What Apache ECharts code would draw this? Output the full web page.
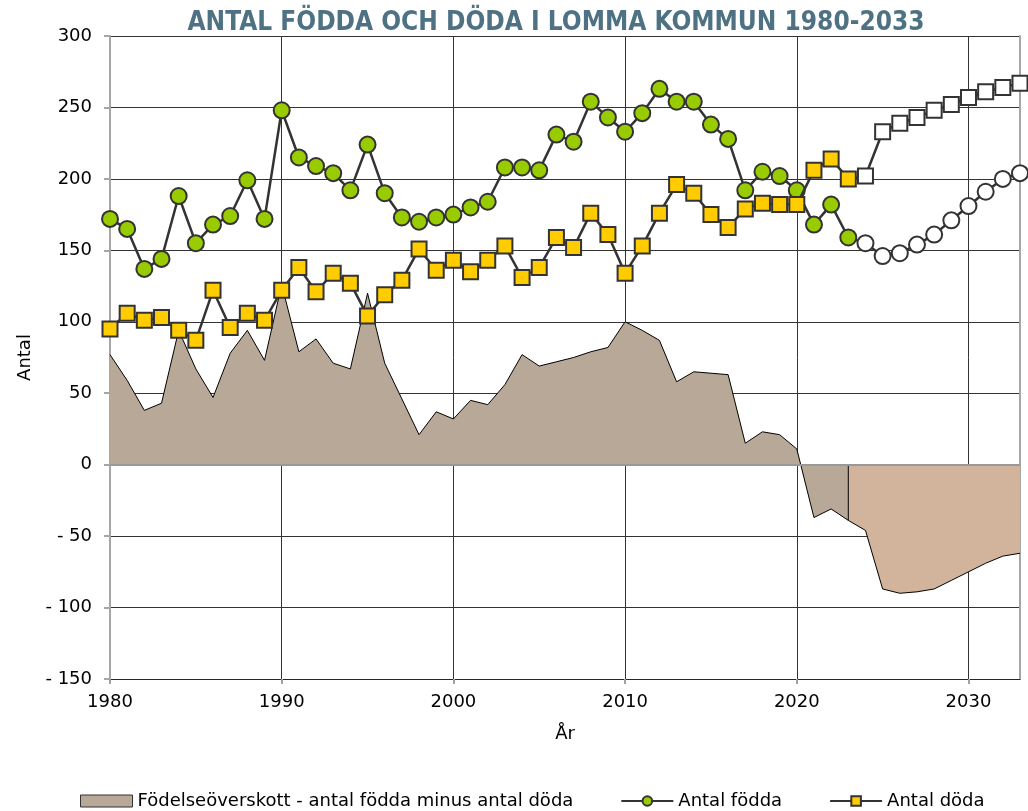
<!DOCTYPE html>
<html>
<head>
<meta charset="utf-8">
<title>Antal födda och döda i Lomma kommun 1980-2033</title>
<script src="https://cdn.jsdelivr.net/npm/echarts@6/dist/echarts.min.js"></script>
<style>
html, body { margin: 0; padding: 0; background: #fff; }
#main { width: 1028px; height: 811px; }
</style>
</head>
<body>
<div id="main"></div>
<script>
/* Antal födda och döda, Lomma kommun. Från 2024 = prognos */

var years = [1980, 1981, 1982, 1983, 1984, 1985, 1986, 1987, 1988, 1989,
	1990, 1991, 1992, 1993, 1994, 1995, 1996, 1997, 1998, 1999,
	2000, 2001, 2002, 2003, 2004, 2005, 2006, 2007, 2008, 2009,
	2010, 2011, 2012, 2013, 2014, 2015, 2016, 2017, 2018, 2019,
	2020, 2021, 2022, 2023, 2024, 2025, 2026, 2027, 2028, 2029,
	2030, 2031, 2032, 2033];
var prognosFrom = 2024;

var births = [172, 165, 137, 144, 188, 155, 168, 174, 199, 172,
	248, 215, 209, 204, 192, 224, 190, 173, 170, 173,
	175, 180, 184, 208, 208, 206, 231, 226, 254, 243,
	233, 246, 263, 254, 254, 238, 228, 192, 205, 202,
	192, 168, 182, 159, 155, 146, 148, 154, 161, 171,
	181, 191, 200, 204];

var deaths = [95, 106, 101, 103, 94, 87, 122, 96, 106, 101,
	122, 138, 121, 134, 127, 104, 119, 129, 151, 136,
	143, 135, 143, 153, 131, 138, 159, 152, 176, 161,
	134, 153, 176, 196, 190, 175, 166, 179, 183, 182,
	182, 206, 214, 200, 202, 233, 239, 243, 248, 252,
	257, 261, 264, 267];

// födelseöverskott 1980-2023 (utfall)
var surplus = [77, 59, 38, 43, 94, 67, 47, 78, 94, 73,
	126, 79, 88, 71, 67, 120, 71, 46, 21, 37,
	32, 45, 42, 56, 77, 69, 72, 75, 79, 82,
	100, 94, 87, 58, 65, 64, 63, 15, 23, 21,
	11, -37, -31, -39];
// födelseöverskott 2023-2033 (prognos)
var surplusPrognos = [-39, -46, -87, -90, -89, -87, -81, -75, -69, -64, -62];

var yTicks = {min: -150, max: 300, interval: 50};

var FONT = "'DejaVu Sans', Verdana, sans-serif";
var NAME_AREA = 'Födelseöverskott - antal födda minus antal döda';

function pointData(vals){
	var res = [];
	for (var i = 0; i < vals.length; i++) {
		var item = {value: [years[i], vals[i]]};
		if (years[i] >= prognosFrom) item.itemStyle = {color: '#ffffff'};
		res.push(item);
	}
	return res;
}

function pairs(xs, vals){
	var res = [];
	for (var i = 0; i < vals.length; i++) res.push([xs[i], vals[i]]);
	return res;
}

var histYears = years.slice(0, surplus.length);
var progYears = years.slice(surplus.length - 1);

var myChart = echarts.init(document.getElementById('main'));

var option = {
	animation: false,
	backgroundColor: '#fff',
	title: {
		text: 'ANTAL FÖDDA OCH DÖDA I LOMMA KOMMUN 1980-2033',
		left: 551,
		textAlign: 'center',
		top: 5,
		textStyle: {
			fontFamily: "'Liberation Sans Narrow', 'DejaVu Sans Condensed', sans-serif",
			fontSize: 26,
			fontWeight: 'bold',
			color: '#4e7283'
		}
	},
	legend: {
		left: 75,
		top: 787,
		itemGap: 47,
		itemWidth: 52,
		itemHeight: 12,
		textStyle: {fontFamily: FONT, fontSize: 18, color: '#000'},
		data: [
			{name: NAME_AREA, icon: 'rect', itemStyle: {color: '#b8a898', borderColor: '#333', borderWidth: 1}},
			'Antal födda',
			'Antal döda'
		]
	},
	grid: {left: 110, right: 8, top: 36, bottom: 132},
	xAxis: {
		type: 'value',
		min: 1980,
		max: 2033,
		interval: 10,
		name: 'År',
		nameLocation: 'middle',
		nameGap: 46,
		nameTextStyle: {fontFamily: FONT, fontSize: 18, color: '#000'},
		axisLine: {onZero: false, lineStyle: {color: '#262626', width: 1}},
		axisTick: {length: 5, lineStyle: {color: '#a0a0a0', width: 2}},
		axisLabel: {
			fontFamily: FONT, fontSize: 18, color: '#000', margin: 14, showMaxLabel: false,
			formatter: function(v){ return '' + v; }
		},
		splitLine: {show: true, lineStyle: {color: '#333', width: 1}}
	},
	yAxis: [
		{
			type: 'value',
			min: yTicks.min,
			max: yTicks.max,
			interval: yTicks.interval,
			name: 'Antal',
			nameLocation: 'middle',
			nameGap: 76,
			nameTextStyle: {fontFamily: FONT, fontSize: 18, color: '#000'},
			axisLine: {show: true, lineStyle: {color: '#a6a6a6', width: 2}},
			axisTick: {show: true, length: 6, lineStyle: {color: '#a6a6a6', width: 2}},
			axisLabel: {
				fontFamily: FONT, fontSize: 18, color: '#000', margin: 18,
				formatter: function(v){ return v < 0 ? '- ' + (-v) : '' + v; }
			},
			splitLine: {show: true, lineStyle: {color: '#333', width: 1}}
		},
		{
			type: 'value',
			position: 'right',
			min: yTicks.min,
			max: yTicks.max,
			interval: yTicks.interval,
			axisLine: {show: true, lineStyle: {color: '#a6a6a6', width: 2}},
			axisTick: {show: false},
			axisLabel: {show: false},
			splitLine: {show: false}
		}
	],
	series: [
		{
			name: NAME_AREA,
			type: 'line',
			data: pairs(histYears, surplus),
			symbol: 'none',
			itemStyle: {color: '#b8a898'},
			lineStyle: {color: '#000', width: 1},
			areaStyle: {color: '#b8a898', opacity: 1, origin: 0},
			z: 1
		},
		{
			name: 'Prognos',
			type: 'line',
			data: pairs(progYears, surplusPrognos),
			symbol: 'none',
			itemStyle: {color: '#d2b49c'},
			lineStyle: {color: '#000', width: 1},
			areaStyle: {color: '#d2b49c', opacity: 1, origin: 0},
			markLine: {
				silent: true,
				symbol: 'none',
				label: {show: false},
				lineStyle: {color: '#999', width: 2, type: 'solid'},
				data: [{yAxis: 0}]
			},
			z: 1
		},
		{
			name: 'Gräns',
			type: 'line',
			data: [[progYears[0], 0], [progYears[0], surplusPrognos[0]]],
			symbol: 'none',
			lineStyle: {color: '#000', width: 1},
			z: 1
		},
		{
			name: 'Antal födda',
			type: 'line',
			data: pointData(births),
			symbol: 'circle',
			symbolSize: 16,
			showAllSymbol: true,
			lineStyle: {color: '#333', width: 2.5},
			itemStyle: {color: '#99cc00', borderColor: '#333', borderWidth: 2},
			z: 3
		},
		{
			name: 'Antal döda',
			type: 'line',
			data: pointData(deaths),
			symbol: 'rect',
			symbolSize: 15,
			showAllSymbol: true,
			lineStyle: {color: '#333', width: 2.5},
			itemStyle: {color: '#ffcc00', borderColor: '#333', borderWidth: 2},
			z: 4
		}
	]
};

myChart.setOption(option);
</script>
</body>
</html>
